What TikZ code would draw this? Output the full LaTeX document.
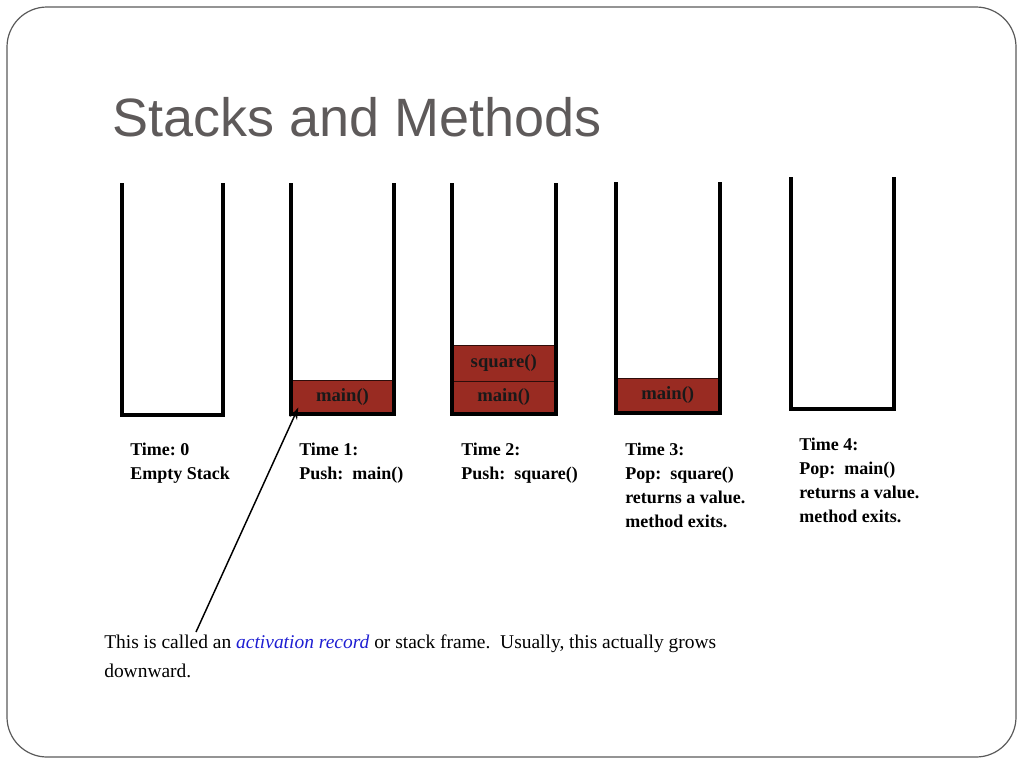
\documentclass[tikz,border=0pt]{standalone}
\usepackage{fontspec}
\setmainfont{Liberation Serif}
\newfontfamily\titlefont{Liberation Sans}
\usetikzlibrary{arrows.meta}
\definecolor{boxred}{RGB}{153,43,34}
\definecolor{titlegray}{RGB}{94,90,90}
\definecolor{framegray}{RGB}{90,90,90}
\definecolor{linkblue}{RGB}{30,30,210}
\frenchspacing
\begin{document}
\begin{tikzpicture}[x=0.75pt,y=-0.75pt,
  wall/.style={line width=3pt, line join=miter, line cap=rect},
  record/.style={fill=boxred, draw=black!70!boxred, line width=0.75pt, inner sep=0pt,
    minimum width=77.5pt, font=\bfseries\fontsize{14}{16}\selectfont, text=black!90},
  timelabel/.style={font=\bfseries\fontsize{13.5}{18}\selectfont, align=left, anchor=base west, inner sep=0pt},
]
\useasboundingbox (0,0) rectangle (1024,768);
\draw[framegray, line width=0.9pt, rounded corners=30pt] (7,7) rectangle (1016,757);

\node[anchor=base west, inner sep=0pt, font=\titlefont\fontsize{40.5}{48}\selectfont, text=titlegray] (title) at (112,136) {Stacks and Methods};

% records
\node[record, minimum height=25.5pt] (m1) at (342.5,397) {main()};
\node[record, minimum height=27pt] (sq2) at (503.75,363) {square()};
\node[record, minimum height=24.75pt] (m2) at (503.75,397.5) {main()};
\node[record, minimum height=26.25pt] (m3) at (667.75,395.5) {main()};

% stacks
\draw[wall] (121.5,185) -- (121.5,414.5) -- (223,414.5) -- (223,185);
\draw[wall] (291,185) -- (291,414) -- (394,414) -- (394,185);
\draw[wall] (452,185) -- (452,414) -- (555.5,414) -- (555.5,185);
\draw[wall] (616,184) -- (616,413) -- (719.5,413) -- (719.5,184);
\draw[wall] (791,179) -- (791,409) -- (894,409) -- (894,179);

% labels (anchor = baseline of last line)
\node[timelabel] (t0) at (130,479) {Time: 0\\Empty Stack};
\node[timelabel] (t1) at (299,479) {Time 1:\\Push:\ \ main()};
\node[timelabel] (t2) at (461,479) {Time 2:\\Push:\ \ square()};
\node[timelabel] (t3) at (625,527) {Time 3:\\Pop:\ \ square()\\returns a value.\\method exits.};
\node[timelabel] (t4) at (799,522) {Time 4:\\Pop:\ \ main()\\returns a value.\\method exits.};

\node[anchor=base west, inner sep=0pt, align=left, font=\fontsize{14.6}{21.75}\selectfont] (note) at (104,677)
  {This is called an \textcolor{linkblue}{\textit{activation record}} or stack frame.\ \ Usually, this actually grows\\downward.};

\coordinate (tail) at (196,632);
\draw[line width=1.1pt, -{Stealth[length=9pt,width=6pt]}] (tail) -- ([shift={(8,-7)}]m1.south west);
\end{tikzpicture}
\end{document}
